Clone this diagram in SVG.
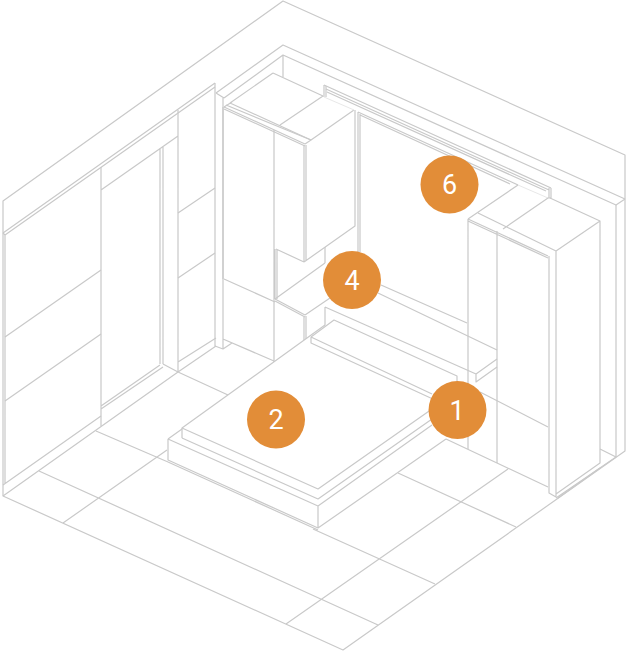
<svg xmlns="http://www.w3.org/2000/svg" width="626" height="652" viewBox="0 0 626 652">
<style>
.l{fill:none;stroke:#c9c9c9;stroke-width:1.2;stroke-linejoin:round}
.f{fill:none;stroke:#e8e8e8;stroke-width:1}
.m{fill:#e28d38}
.t{fill:#fff;font-family:"Roboto","Liberation Sans",sans-serif;font-size:27px;text-anchor:middle}
</style>
<rect width="626" height="652" fill="#fff"/>
<g id="room" class="l">
<path d="M3 485V201L283 1 625 155V451L343 650 3 496V485"/>
<path d="M216 93 283 45 625 199M224 98 283 55 616 205 625 199M283 55V77M216 93 224 98"/>
<path d="M3 496 178 372M3 485 101 416M616 205V457M3 233 215 83M5 235 215 87M5 235V484M3 233 5 235"/>
<path d="M215 83V346L223 349 232 343M223 98V349M223 339 274 361"/>
<path d="M101 167V426M101 190 178 136M178 110V372M160 148V364M163 146V364M101 406 160 365M101 409 163 367M163 364 178 372M178 372 216 346M178 362 216 338M178 372 228 395"/>
<path d="M178 213 215 188M178 278 215 253M101 270 5 337M101 334 5 401"/>
</g>
<g id="floor" class="l">
<path d="M96 431 168 462M39 471 378 625M63 523 167 450M313 529 435 584M286 624 508 469M398 473 516 527M548 487 446 439M548 427 480 392M600 449 616 457M556 498 616 457"/>
</g>
<g id="left-cabinet" class="l">
<path d="M273 73 323 96M230 103 273 73M224 107 232 102M230 103 311 140 354 110M280 125 323 96M324 85V97M326 86V97"/>
<path d="M224 107 305 144M224 109 305 146M226 105 311 140M305 144 311 140"/>
<path d="M223 107V279M274 130V362M304 145V262M306 145V261M355 110V226L304 262M276 249 304 262M275 249V299M277 250V299"/>
<path d="M224 279 275 302M275 299 305 315M275 301 305 317M275 299 325 263M325 247V263M305 315 330 298M304 316V340M306 316V339"/>
</g>
<g id="window" class="l">
<path d="M324 85 551 188M326 89 549 190M327 92 546 191M551 188V198M549 188V198M548 198 551 198"/>
<path d="M358 112 518 185M360 115 510 184M358 112V253M360 114V252M381 285 467 323M378 293 497 350"/>
</g>
<path class="f" d="M324 97 354 110M518 185 548 198"/>
<g id="right-cabinet" class="l">
<path d="M518 185 468 219M548 198 503 229M550 198 600 221 556 251M468 219 548 256M468 221 548 258M478 213 556 251M468 219V449M497 231V463M549 256V493L556 497M556 251V497M600 221V463L556 494M558 498 600 468"/>
</g>
<g id="bed" class="l">
<path d="M325 307 476 374V382L497 367M476 374 497 359M325 307V325L182 428V438"/>
<path d="M311 337 334 320 457 376V386M311 337V343L435 400M311 337 432 394M182 428 318 489 432 409M182 438 318 499 432 419M168 439 182 429M168 439 318 506 432 425M168 439V460L318 528 446 439M168 462 318 530M318 506V528"/>
</g>
<g id="marker-6"><circle class="m" cx="449.500" cy="184.500" r="29"/><text class="t" x="449.500" y="194">6</text></g>
<g id="marker-4"><circle class="m" cx="352" cy="280" r="29"/><text class="t" x="352" y="289.500">4</text></g>
<g id="marker-2"><circle class="m" cx="276" cy="419.500" r="29"/><text class="t" x="276" y="429">2</text></g>
<g id="marker-1"><circle class="m" cx="457.500" cy="410" r="29"/><text class="t" x="457" y="419.500">1</text></g>
</svg>
